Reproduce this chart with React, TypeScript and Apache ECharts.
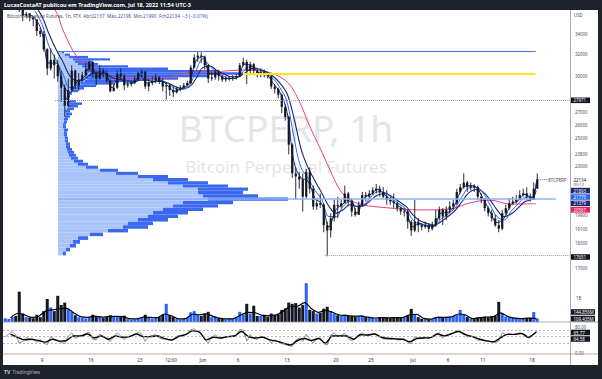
import React, { useEffect, useRef } from "react";
import * as echarts from "echarts";

// ---------- time (days counted from 1 May 2022: May d -> d, Jun d -> 31+d, Jul d -> 61+d) ----------
const FIRST_SLOT = 3.5; // first 12h candle starts May 3, 12:00
const SLOT_DAYS = 0.5;
const FIRST_OPEN = 37500;

// 12h candles: close / high / low (open = previous close)
const closes = [
  37700,
  38300, 39600, 39300, 36500, 35900, 36100, 35700, 35500, 34300, 34000,
  32500, 30700, 31500, 31000, 30000, 29000, 27500, 28800, 30500, 29200,
  29700, 30100, 30600, 31300, 30300, 29800, 30500, 30300, 29600, 28700,
  29000, 30200, 30000, 29200, 29300, 29400, 29700, 30300, 30400, 29100,
  29400, 29600, 29900, 29500, 29100, 29200, 28800, 28600, 28900, 29000,
  29200, 29400, 30800, 31700, 31900, 31800, 31000, 29800, 29900, 30400,
  30000, 29700, 29800, 29800, 29900, 30000, 31000, 31300, 30500, 31100,
  30500, 30200, 30400, 30100, 30000, 29100, 28900, 28400, 27400, 26600,
  24500, 22500, 22300, 22100, 21000, 22600, 21500, 20400, 20600, 20500,
  19300, 19000, 19700, 20500, 20400, 20600, 21200, 20700, 20100, 19900,
  20500, 21100, 21000, 21200, 21400, 21500, 21300, 21000, 20800, 20700,
  20600, 20300, 20100, 20100, 19500, 19000, 19500, 19300, 19200, 19300,
  19100, 19300, 19700, 20200, 19800, 20200, 20400, 20600, 21300, 21600,
  21900, 21600, 21700, 21600, 21000, 20800, 20300, 20000, 19700, 19300,
  19100, 20000, 20300, 20600, 20700, 20800, 21100, 21200, 21000, 20800,
  21500, 22134,
];
const highs = [
  38200,
  38500, 40000, 39800, 39400, 36700, 36300, 36200, 35800, 35500, 34600,
  34300, 32600, 32600, 32000, 31500, 30500, 29300, 29800, 31000, 30600,
  30300, 30400, 31200, 31400, 31300, 30400, 31000, 30700, 30500, 29700,
  29500, 30500, 30700, 30200, 29600, 29600, 30000, 30400, 30600, 30500,
  29800, 30000, 30200, 30000, 29800, 29500, 29300, 29100, 29100, 29200,
  29400, 29600, 31000, 32000, 32300, 32200, 31900, 31100, 30400, 30600,
  30600, 30100, 30000, 30000, 30100, 30200, 31200, 31700, 31500, 31300,
  31200, 30700, 30700, 30600, 30300, 30100, 29300, 29000, 28500, 27600,
  26700, 24600, 22900, 22600, 22500, 22800, 22900, 21700, 20900, 21200,
  20600, 19500, 20000, 20800, 21000, 20800, 21700, 21300, 20800, 20300,
  20700, 21300, 21300, 21400, 21600, 21800, 21700, 21600, 21400, 21000,
  21200, 20700, 20400, 20300, 20200, 19600, 20800, 19700, 19400, 19500,
  19400, 19500, 20200, 20400, 20300, 20400, 20700, 20800, 21500, 21800,
  22500, 22000, 21900, 21800, 21700, 21200, 20900, 20400, 20200, 19900,
  19600, 20200, 20500, 20900, 21000, 21100, 21400, 21500, 21600, 21200,
  21900, 22500,
];
const lows = [
  37300,
  37600, 38200, 38900, 36300, 35300, 35600, 35300, 34800, 33800, 33700,
  32300, 30100, 30500, 29800, 29500, 27800, 26600, 27400, 28800, 28900,
  28700, 29500, 30000, 30500, 29900, 29200, 29700, 29900, 29400, 28600,
  28700, 28900, 29700, 28800, 29000, 29100, 29300, 29600, 29900, 28900,
  28700, 29200, 29400, 29300, 28700, 28000, 28300, 28200, 28500, 28700,
  28900, 29100, 29300, 30700, 31300, 31200, 30600, 29400, 29600, 29700,
  29600, 29500, 29500, 29600, 29600, 29700, 29900, 30900, 29300, 30200,
  30100, 29900, 29900, 29900, 29800, 28900, 28500, 28100, 26900, 26300,
  23800, 22200, 20800, 21500, 20100, 20900, 21200, 20200, 20200, 20300,
  18900, 17600, 18600, 19500, 19700, 20300, 20600, 20400, 19800, 19800,
  19900, 20400, 20700, 20900, 21100, 21200, 21000, 20900, 20500, 20500,
  20300, 20100, 19900, 19800, 19100, 18700, 18900, 18900, 19000, 19100,
  18900, 19000, 19200, 19600, 19300, 19600, 20000, 20200, 20500, 21200,
  21500, 21300, 21400, 21300, 20800, 20600, 20100, 19800, 19500, 19200,
  18900, 19000, 19900, 20200, 20500, 20600, 20800, 21000, 20800, 20700,
  20800, 21500,
];

// hourly-scale volume per 12h slot, millions
const volumesM = [
  150,
  120, 200, 260, 1250, 350, 200, 180, 150, 300, 200,
  450, 950, 600, 450, 1080, 700, 800, 550, 420, 280,
  200, 180, 150, 220, 300, 250, 220, 160, 200, 280,
  250, 230, 200, 260, 120, 100, 110, 160, 180, 300,
  200, 150, 170, 200, 300, 750, 280, 200, 120, 100,
  120, 180, 400, 450, 300, 260, 350, 420, 200, 220,
  150, 120, 110, 130, 120, 200, 420, 300, 750, 350,
  670, 250, 260, 300, 220, 350, 300, 320, 500, 560,
  800, 750, 780, 600, 700, 1600, 500, 450, 350, 380,
  550, 630, 450, 350, 280, 260, 300, 260, 250, 220,
  230, 280, 200, 180, 160, 150, 200, 180, 170, 160,
  180, 200, 170, 190, 280, 540, 320, 200, 130, 110,
  100, 120, 200, 220, 180, 200, 180, 250, 300, 500,
  320, 200, 130, 120, 180, 200, 220, 180, 230, 250,
  830, 350, 220, 200, 160, 150, 140, 130, 160, 170,
  410, 145,
];

// RSI per 12h slot
const rsiValues = [
  50,
  58, 66, 55, 30, 35, 48, 42, 40, 33, 40,
  30, 25, 50, 42, 38, 32, 28, 52, 62, 45,
  50, 55, 60, 64, 42, 40, 58, 50, 42, 35,
  48, 62, 52, 40, 50, 52, 56, 64, 58, 35,
  50, 54, 56, 46, 42, 44, 38, 40, 52, 54,
  56, 58, 72, 74, 66, 60, 40, 30, 48, 56,
  46, 44, 50, 50, 52, 54, 72, 70, 36, 56,
  44, 42, 52, 46, 44, 30, 40, 34, 28, 26,
  22, 20, 38, 45, 35, 58, 42, 30, 45, 46,
  28, 24, 55, 62, 50, 54, 60, 44, 38, 42,
  56, 62, 54, 56, 58, 58, 50, 44, 42, 46,
  44, 40, 40, 44, 32, 28, 50, 44, 44, 48,
  44, 50, 58, 62, 46, 56, 58, 60, 68, 66,
  62, 48, 52, 50, 38, 42, 36, 36, 34, 32,
  36, 62, 56, 60, 56, 58, 62, 58, 48, 46,
  60, 66,
];

// daily series (x = day value), last point is the live value
const DAILY_MID_START = 4.5; // x of first daily point for RSI MA / volume MA
const rsiMA = [
  58, 48, 40, 42, 38, 33, 42, 36, 38, 52, 52, 58, 46, 52, 42, 52, 48, 50, 58, 50,
  50, 52, 44, 40, 50, 56, 68, 64, 40, 48, 46, 50, 52, 66, 50, 46, 48, 40, 36, 30,
  24, 38, 44, 38, 44, 30, 52, 52, 52, 42, 56, 55, 58, 48, 44, 43, 42, 34, 44, 46,
  47, 58, 52, 59, 66, 56, 50, 42, 37, 34, 46, 57, 57, 60, 48, 62,
];
const rsiMALast = 64.58;
const volMA = [
  170, 350, 300, 190, 230, 450, 500, 550, 560, 380, 220, 190, 240, 200, 220, 230, 220, 140, 130, 200,
  190, 180, 330, 260, 130, 140, 320, 300, 340, 220, 150, 125, 150, 300, 400, 380, 270, 260, 300, 450,
  650, 650, 800, 550, 400, 480, 400, 290, 270, 240, 240, 200, 165, 185, 170, 185, 180, 300, 320, 150,
  115, 190, 190, 210, 330, 290, 140, 180, 200, 220, 380, 230, 160, 140, 160, 150,
];
const volMALast = 109.435;
const volLast = 144.856;

const LAST_X = 79.6;
const emaFastStart = 7;
const emaFast = [
  36100, 35600, 34200, 31200, 31200, 29300, 28600, 29500, 29900, 31000, 30000, 30300, 29000, 29900, 29400,
  29400, 30100, 29400, 29550, 29600, 29150, 28700, 28950, 29350, 31400, 31800, 30200, 30200, 29800, 29800,
  29950, 31100, 30900, 30300, 30200, 29400, 28600, 27000, 23300, 22200, 22000, 20900, 20550, 19200, 20200,
  20550, 20900, 20000, 20900, 21150, 21450, 21100, 20750, 20400, 20100, 19200, 19400, 19250, 19250, 20000,
  20050, 20500, 21500, 21700, 21600, 20900, 20100, 19450, 19700, 20500, 20750, 21150, 20900,
];
const emaFastLast = 21893;
const emaMidStart = 8;
const emaMid = [
  36400, 35000, 32800, 31500, 30200, 29000, 29200, 29700, 30500, 30400, 30200, 29600, 29500, 29600, 29400,
  29800, 29700, 29500, 29600, 29350, 28950, 28850, 29150, 30500, 31600, 30900, 30300, 30000, 29800, 29900,
  30600, 30900, 30600, 30250, 29800, 29000, 27800, 25000, 22900, 22200, 21400, 20800, 19800, 19800, 20400,
  20700, 20400, 20500, 21000, 21300, 21250, 20900, 20550, 20250, 19600, 19350, 19300, 19250, 19650, 19950,
  20300, 21000, 21550, 21600, 21250, 20500, 19800, 19600, 20100, 20550, 20950, 21000,
];
const emaMidLast = 21770;
const emaSlowStart = 8;
const emaSlow = [
  37000, 35800, 34000, 32500, 31300, 30000, 29600, 29700, 30200, 30300, 30250, 29900, 29700, 29650, 29500,
  29650, 29650, 29550, 29550, 29400, 29100, 28950, 29050, 29800, 30800, 30900, 30500, 30200, 29950, 29950,
  30300, 30700, 30650, 30400, 30000, 29400, 28500, 26500, 24200, 22900, 22000, 21200, 20400, 20000, 20200,
  20500, 20400, 20450, 20800, 21100, 21200, 21000, 20700, 20400, 19900, 19550, 19400, 19300, 19500, 19800,
  20150, 20700, 21250, 21450, 21300, 20800, 20200, 19800, 19950, 20300, 20700, 20850,
];
const emaSlowLast = 21379;
const maLongDays = [8, 10.86, 12, 14.14, 16.86, 19.71, 23, 26.86, 29.71, 33.43, 38.29, 41.1, 43, 44.43, 45.86, 47.29, 48.71, 50.14, 51.57, 53, 55.14, 57.29, 63, 67.29, 70.14, 73, 75.86, 79.6];
const maLongValues = [38300, 36500, 34400, 31670, 30560, 29850, 29760, 29850, 30300, 30400, 30560, 30400, 29940, 29240, 27720, 25820, 24260, 22730, 21420, 20790, 20480, 20360, 20190, 20250, 20620, 20790, 20540, 20567];

// volume profiles (rows bottom -> top)
const upperProfileRange = [27970, 32300];
const upperProfileTotal = [10, 12, 14, 20, 26, 38, 55, 80, 120, 150, 185, 160, 110, 70, 40, 35, 52, 30, 12, 6];
const upperProfileLight = [7, 9, 11, 13, 15, 19, 23, 27, 29, 31, 32, 30, 28, 24, 20, 17, 15, 11, 7, 4];
const lowerProfileRange = [17650, 27970];
const lowerProfileTotal = [8, 12, 18, 22, 30, 45, 70, 90, 95, 110, 120, 130, 145, 160, 175, 230, 200, 185, 190, 170, 150, 130, 110, 80, 60, 40, 30, 25, 20, 18, 16, 14, 12, 12, 10, 10, 9, 9, 10, 8, 8, 9, 10, 12, 14, 12, 16, 20, 24, 18];
const lowerProfileLight = [5, 8, 12, 15, 20, 32, 50, 65, 70, 80, 90, 95, 105, 115, 125, 150, 145, 140, 140, 125, 110, 95, 80, 58, 42, 28, 20, 16, 13, 11, 10, 9, 8, 8, 7, 7, 6, 6, 6, 5, 5, 6, 6, 7, 8, 7, 9, 10, 12, 10];

// levels
const rangeHigh = 32300;
const upperPOC = 30240;
const lowerPOC = 20850;
const rangeLowMark = 27971;
const lowMark = 17651;
const lastPrice = 22134;

// axis ticks
const priceTicks = [34000, 32000, 30000, 27000, 26000, 25000, 23800, 23000, 19900, 19100, 18300, 17000];
const timeTickDays = [9, 16, 23, 27.43, 32, 37, 44, 51, 56, 62, 67, 72, 79];
const timeTickLabels = ["9", "16", "23", "12:00", "Jun", "6", "13", "20", "25", "Jul", "6", "11", "18"];

const FONT = "Noto Sans";
const NAVY = "#18286a";
const BLUE = "#2962ff";
const PINK = "#ec407a";

export default function App() {
  const ref = useRef<HTMLDivElement>(null);
  useEffect(() => {
    const chart = echarts.init(ref.current as HTMLDivElement, null, { renderer: "svg" });
    const ln = Math.log;
    const X_MIN = 3.4286, X_MAX = 84.4286;
    const Y_MAX = ln(34000) + 24 / 337.6;
    const Y_MIN = ln(34000) - 247 / 337.6;

    const slotX = (i: number) => FIRST_SLOT + i * SLOT_DAYS + SLOT_DAYS / 2;
    const candles = closes.map((c, i) => {
      const o = i === 0 ? FIRST_OPEN : closes[i - 1];
      return [slotX(i), ln(o), ln(c), ln(lows[i]), ln(highs[i])];
    });
    const volData = volumesM.map((v, i) => {
      const o = i === 0 ? FIRST_OPEN : closes[i - 1];
      return { value: [slotX(i), v], itemStyle: { color: closes[i] >= o ? BLUE : "#131722" } };
    });
    const rsiData = rsiValues.map((v, i) => [slotX(i), v]);
    const daily = (arr: number[], start: number, last: number, f = (v: number) => v) => {
      const d = arr.map((v, i) => [start + i, f(v)]);
      d.push([LAST_X, f(last)]);
      return d;
    };
    const profileRows = (range: number[], total: number[], light: number[]) => {
      const step = (range[1] - range[0]) / total.length;
      return total.map((t, i) => [ln(range[0] + i * step), ln(range[0] + (i + 1) * step), light[i], t]);
    };

    const profileSeries = (data: number[][]) => ({
      type: "custom",
      xAxisIndex: 3,
      yAxisIndex: 0,
      z: 1,
      silent: true,
      data,
      encode: { x: [2, 3], y: [0, 1] },
      renderItem: (_p: any, api: any) => {
        const lo = api.value(0), hi = api.value(1), lw = api.value(2), tw = api.value(3);
        const a = api.coord([0, hi]);
        const b = api.coord([lw, lo]);
        const c = api.coord([tw, lo]);
        const h = b[1] - a[1];
        return {
          type: "group",
          children: [
            { type: "rect", shape: { x: a[0], y: a[1], width: b[0] - a[0], height: h }, style: { fill: "#a9c4f9" } },
            { type: "rect", shape: { x: b[0], y: a[1], width: c[0] - b[0], height: h }, style: { fill: "#3a68f0" } },
          ],
        };
      },
    });

    const hLine = (x1: number, x2: number, p: number, color: string, type: string, width: number) => [
      { coord: [x1, ln(p)], lineStyle: { color, type, width } },
      { coord: [x2, ln(p)] },
    ];

    const txt = (text: string, x: number, y: number, fontSize: number, fill: string, extra: any = {}) => ({
      type: "text",
      x,
      y,
      z: 120,
      silent: true,
      style: { text, fontSize, fill, fontFamily: FONT, verticalAlign: "middle", ...extra },
    });
    const box = (text: string, y: number, bg: string, w = 19) => ({
      type: "group",
      z: 110,
      silent: true,
      children: [
        { type: "rect", z: 110, shape: { x: 571, y: y - 2.8, width: w, height: 5.6 }, style: { fill: bg } },
        { type: "text", z: 111, x: 573.5, y, style: { text, fontSize: 4.4, fill: "#ffffff", fontFamily: FONT, verticalAlign: "middle" } },
      ],
    });

    const option: any = {
      animation: false,
      backgroundColor: "#ffffff",
      textStyle: { fontFamily: FONT },
      grid: [
        { left: 3, top: 10, width: 567, height: 271 },
        { left: 3, top: 282, width: 567, height: 40 },
        { left: 3, top: 322, width: 567, height: 32 },
      ],
      xAxis: [
        { type: "value", gridIndex: 0, min: X_MIN, max: X_MAX, show: false, splitLine: { show: false } },
        { type: "value", gridIndex: 1, min: X_MIN, max: X_MAX, show: false, splitLine: { show: false } },
        {
          type: "value", gridIndex: 2, min: X_MIN, max: X_MAX,
          axisLine: { show: false }, axisTick: { show: false }, splitLine: { show: false },
          axisLabel: {
            customValues: timeTickDays,
            fontSize: 4.6, color: "#2a2e39", margin: 3.5,
            formatter: (v: number) => {
              const i = timeTickDays.findIndex((d) => Math.abs(d - v) < 0.01);
              return i >= 0 ? timeTickLabels[i] : "";
            },
          },
        },
        { type: "value", gridIndex: 0, min: -55, max: 512, show: false, splitLine: { show: false } },
      ],
      yAxis: [
        {
          type: "value", gridIndex: 0, position: "right", min: Y_MIN, max: Y_MAX,
          axisLine: { show: false }, axisTick: { show: false }, splitLine: { show: false },
          axisLabel: {
            customValues: priceTicks.map((p) => ln(p)),
            fontSize: 4.4, color: "#4a4e59", margin: 5,
            formatter: (v: number) => String(Math.round(Math.exp(v))),
          },
        },
        {
          type: "value", gridIndex: 1, position: "right", min: 0, max: 1650,
          axisLine: { show: false }, axisTick: { show: false }, splitLine: { show: false },
          axisLabel: { customValues: [1000], fontSize: 4.4, color: "#4a4e59", margin: 6, formatter: () => "1B" },
        },
        {
          type: "value", gridIndex: 2, position: "right", min: -4.05, max: 95.6,
          axisLine: { show: false }, axisTick: { show: false }, splitLine: { show: false },
          axisLabel: { customValues: [0, 80], fontSize: 4.4, color: "#4a4e59", margin: 5, formatter: (v: number) => v.toFixed(2) },
        },
      ],
      series: [
        profileSeries(profileRows(upperProfileRange, upperProfileTotal, upperProfileLight)),
        profileSeries(profileRows(lowerProfileRange, lowerProfileTotal, lowerProfileLight)),
        {
          type: "line",
          name: "MA long",
          xAxisIndex: 0, yAxisIndex: 0, z: 3,
          data: maLongDays.map((d, i) => [d, ln(maLongValues[i])]),
          smooth: 0.35, showSymbol: false, symbol: "none", clip: true,
          lineStyle: { color: PINK, width: 1 },
          markLine: {
            silent: true, symbol: "none", label: { show: false },
            data: [
              hLine(10.86, X_MAX, rangeLowMark, "#9aa0ab", "dotted", 1),
              hLine(49.4, X_MAX, lowMark, "#9aa0ab", "dotted", 1),
              hLine(11.29, 79.5, rangeHigh, "#4f74ee", "solid", 1),
              hLine(37.7, 79.5, upperPOC, "#ffe81a", "solid", 2),
              hLine(11.29, 82.4, lowerPOC, "#8fb0f7", "solid", 1.6),
              hLine(79.6, 81.2, lastPrice, "#787b86", "dotted", 1),
            ],
          },
        },
        {
          type: "line", xAxisIndex: 0, yAxisIndex: 0, z: 3,
          data: daily(emaSlow, emaSlowStart, emaSlowLast, ln),
          smooth: 0.4, symbol: "none", clip: true, lineStyle: { color: NAVY, width: 1.1 },
        },
        {
          type: "line", xAxisIndex: 0, yAxisIndex: 0, z: 3,
          data: daily(emaMid, emaMidStart, emaMidLast, ln),
          smooth: 0.4, symbol: "none", clip: true, lineStyle: { color: BLUE, width: 1 },
        },
        {
          type: "line", xAxisIndex: 0, yAxisIndex: 0, z: 3,
          data: daily(emaFast, emaFastStart, emaFastLast, ln),
          smooth: 0.4, symbol: "none", clip: true, lineStyle: { color: NAVY, width: 1 },
        },
        {
          type: "custom",
          xAxisIndex: 0, yAxisIndex: 0, z: 4, clip: true, silent: true,
          data: candles,
          encode: { x: 0, y: [1, 2, 3, 4] },
          renderItem: (_p: any, api: any) => {
            const x = api.value(0);
            const o = api.value(1), c = api.value(2), l = api.value(3), h = api.value(4);
            const pO = api.coord([x, o]), pC = api.coord([x, c]);
            const pL = api.coord([x, l]), pH = api.coord([x, h]);
            const col = "#131722";
            const w = 2.2;
            return {
              type: "group",
              children: [
                { type: "line", shape: { x1: pH[0], y1: pH[1], x2: pL[0], y2: pL[1] }, style: { stroke: col, lineWidth: 0.9 } },
                {
                  type: "rect",
                  shape: { x: pO[0] - w / 2, y: Math.min(pO[1], pC[1]), width: w, height: Math.max(0.9, Math.abs(pO[1] - pC[1])) },
                  style: { fill: col },
                },
              ],
            };
          },
        },
        {
          type: "bar", xAxisIndex: 1, yAxisIndex: 1, barWidth: 3, z: 2,
          data: volData,
        },
        {
          type: "line", xAxisIndex: 1, yAxisIndex: 1, z: 3,
          data: daily(volMA, DAILY_MID_START, volMALast),
          smooth: 0.3, symbol: "none", lineStyle: { color: "#000000", width: 1.2 },
        },
        {
          type: "line", xAxisIndex: 2, yAxisIndex: 2, z: 3,
          data: rsiData, symbol: "none", lineStyle: { color: "#5d606b", width: 0.7 },
          markLine: {
            silent: true, symbol: "none", label: { show: false },
            lineStyle: { color: "#9598a1", type: [2, 2], width: 0.7 },
            data: [{ yAxis: 70 }, { yAxis: 50 }, { yAxis: 30 }],
          },
        },
        {
          type: "line", xAxisIndex: 2, yAxisIndex: 2, z: 4,
          data: daily(rsiMA, DAILY_MID_START, rsiMALast),
          smooth: 0.3, symbol: "none", lineStyle: { color: "#000000", width: 1.4 },
        },
      ],
      graphic: [
        // watermark
        { type: "text", z: 0, x: 286, y: 127, silent: true, style: { text: "BTCPERP, 1h", fontSize: 37, fill: "#e4e5e8", fontFamily: FONT, align: "center", verticalAlign: "middle" } },
        { type: "text", z: 0, x: 286, y: 166, silent: true, style: { text: "Bitcoin Perpetual Futures", fontSize: 17, fill: "#e4e5e8", fontFamily: FONT, align: "center", verticalAlign: "middle" } },
        // pane separators and price scale border
        { type: "line", z: 90, silent: true, shape: { x1: 3, y1: 322, x2: 598, y2: 322 }, style: { stroke: "#9598a1", lineWidth: 0.8 } },
        { type: "line", z: 90, silent: true, shape: { x1: 3, y1: 354, x2: 598, y2: 354 }, style: { stroke: "#9598a1", lineWidth: 0.8 } },
        { type: "line", z: 90, silent: true, shape: { x1: 570.5, y1: 10, x2: 570.5, y2: 365 }, style: { stroke: "#9598a1", lineWidth: 0.8 } },
        // dark frame
        { type: "rect", z: 100, silent: true, shape: { x: 0, y: 0, width: 602, height: 10 }, style: { fill: "#1e222d" } },
        { type: "rect", z: 100, silent: true, shape: { x: 0, y: 365, width: 602, height: 14 }, style: { fill: "#1e222d" } },
        { type: "rect", z: 100, silent: true, shape: { x: 0, y: 0, width: 3, height: 379 }, style: { fill: "#1e222d" } },
        { type: "rect", z: 100, silent: true, shape: { x: 598, y: 0, width: 4, height: 379 }, style: { fill: "#1e222d" } },
        txt("LucasCostaAT publicou em TradingView.com, Jul 18, 2022 11:54 UTC-3", 4, 5, 5.5, "#ffffff", { fontWeight: "bold" }),
        txt("TV", 4, 372, 5, "#d1d4dc", { fontWeight: "bold" }),
        txt("TradingView", 12.5, 372, 4.8, "#b2b5be"),
        {
          type: "text", z: 120, x: 7, y: 16, silent: true,
          style: {
            text: "{t|Bitcoin Perpetual Futures, 1h, FTX  Abr}{v|22137}{t|  Máx.}{v|22198}{t|  Mín.}{v|21990}{t|  Fch}{v|22134}{v|  −3 (−0.01%)}",
            fontFamily: FONT, verticalAlign: "middle",
            rich: {
              t: { fontSize: 4.7, fill: "#4a4e59", fontFamily: FONT },
              v: { fontSize: 4.7, fill: "#3556c4", fontFamily: FONT },
            },
          },
        },
        txt("USD", 574, 15, 4.4, "#4a4e59"),
        txt("BTCPERP", 548, 180, 4.4, "#4a4e59"),
        txt("22134", 573.5, 180, 4.4, "#131722"),
        txt("05:12", 573.5, 184.6, 4.2, "#4a4e59"),
        box("27971", 100.3, "#131722"),
        box("21893", 190.6, NAVY),
        box("21770", 197, BLUE),
        box("21379", 203.4, NAVY),
        box("20567", 209.8, "#e91e63"),
        box("17651", 257, "#131722"),
        box(volLast.toFixed(3) + "M", 312, "#131722", 24),
        box(volMALast.toFixed(3) + "M", 318.6, "#131722", 24),
        box("65.77", 332.5, "#131722"),
        box("64.58", 339, "#131722"),
      ],
    };
    chart.setOption(option);
    return () => chart.dispose();
  }, []);
  return <div ref={ref} style={{ position: "absolute", left: 0, top: 0, width: 602, height: 379 }} />;
}
